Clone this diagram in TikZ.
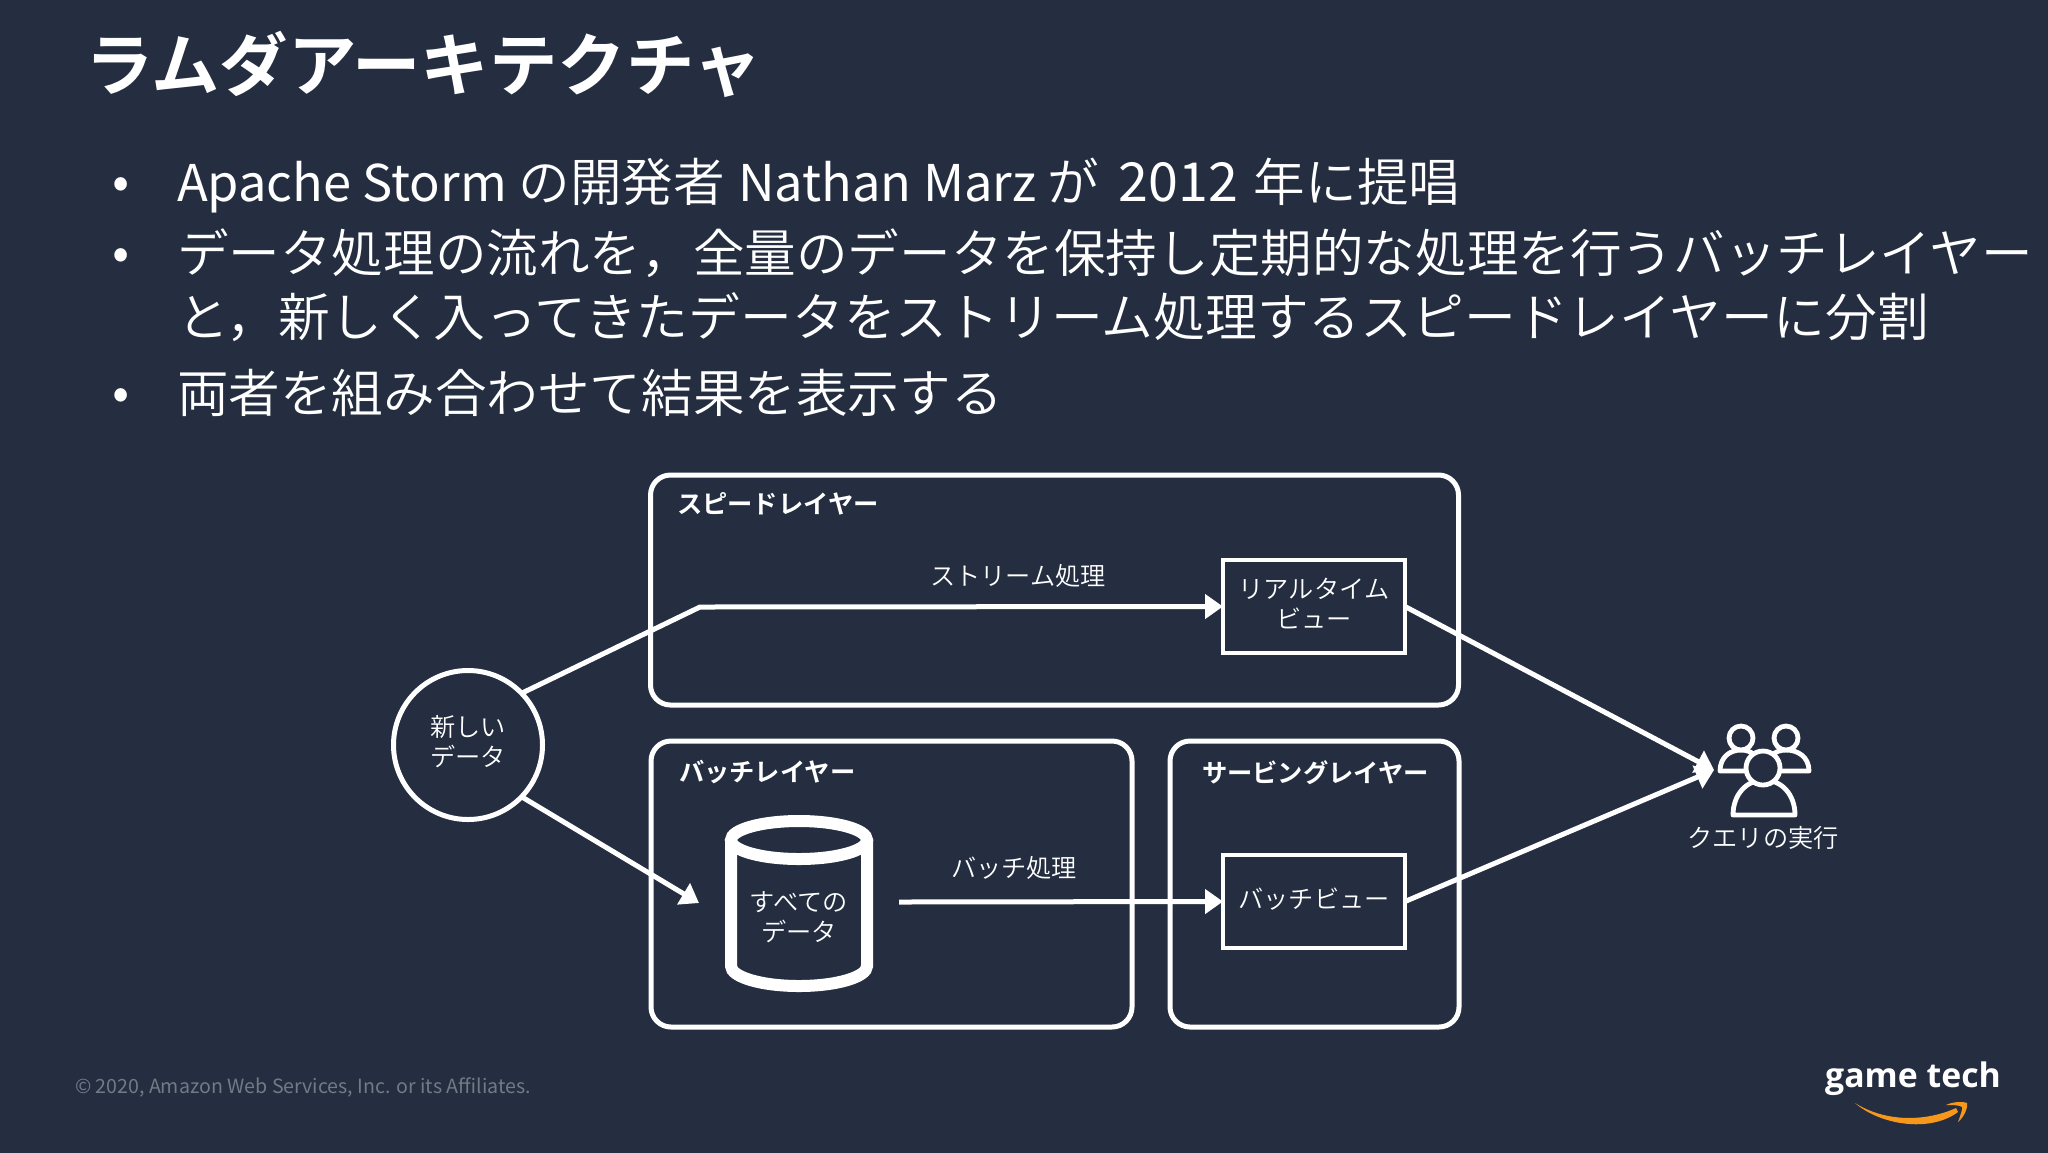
\documentclass[tikz,border=0pt]{standalone}
\usepackage{fontspec}
\usetikzlibrary{arrows.meta}
\newfontfamily\jpfont{Noto Sans CJK JP DemiLight}
\newfontfamily\jpreg{Noto Sans CJK JP}
\newfontfamily\jpbold{Noto Sans CJK JP Bold}
\newfontfamily\logofont{Open Sans}[UprightFont=*,BoldFont=* Bold]
\definecolor{bg}{HTML}{242E40}
\definecolor{smile}{HTML}{F7981D}
\definecolor{foot}{HTML}{737985}
\newcommand{\latinpart}{\jpreg\fontsize{25.3}{30}\selectfont}
\newcommand{\yearpart}{\jpreg\fontsize{26.9}{30}\selectfont}
\tikzset{
  every node/.style={inner sep=0pt,outer sep=0pt,text=white},
  wire/.style={draw=white,line width=2.5pt},
  arrowline/.style={wire,-{Triangle[length=9pt,width=12pt]}},
  layer/.style={draw=white,line width=2.5pt,rounded corners=10pt,rectangle},
  viewbox/.style={draw=white,line width=2.3pt,rectangle,minimum width=91pt,minimum height=46.5pt},
  lbl/.style={font=\jpfont\fontsize{12.6}{15}\selectfont,align=center},
  lblb/.style={font=\jpbold\fontsize{12.65}{15}\selectfont},
  bodytext/.style={anchor=base west,font=\jpfont\fontsize{25.8}{30}\selectfont},
  bulletmark/.style={anchor=base,font=\jpfont\fontsize{25.8}{30}\selectfont},
  person/.style={draw=white,line width=2.4pt,fill=bg,line join=round}
}
\begin{document}
\begin{tikzpicture}[x=0.5pt,y=-0.5pt]
\useasboundingbox (0,0) rectangle (2048,1152);
\fill[bg] (-6,-6) rectangle (2054,1158);
\node[anchor=base west,font=\jpbold\fontsize{34.2}{40}\selectfont] (title) at (85,90) {ラムダアーキテクチャ};
\node[bulletmark] (b1) at (121,199) {•};
\node[bodytext] (t1) at (177,201) {{\latinpart Apache Storm} の開発者\hspace{1pt} {\latinpart Nathan Marz} が\hspace{3.9pt} {\yearpart 2012}\hspace{2.2pt} 年に提唱};
\node[bulletmark] (b2) at (121,270) {•};
\node[bodytext] (t2) at (177,272) {データ処理の流れを，全量のデータを保持し定期的な処理を行うバッチレイヤー};
\node[bodytext,font=\jpfont\fontsize{25.9}{30}\selectfont] (t3) at (177,336) {と，新しく入ってきたデータをストリーム処理するスピードレイヤーに分割};
\node[bulletmark] (b3) at (121,410) {•};
\node[bodytext] (t4) at (177,412) {両者を組み合わせて結果を表示する};

\node[layer,minimum width=404pt,minimum height=115pt] (speed) at (1054.5,590) {};
\node[layer,minimum width=240.5pt,minimum height=143pt] (batch) at (891.5,884) {};
\node[layer,minimum width=144.5pt,minimum height=143pt] (serving) at (1314.5,884) {};
\node[lblb,anchor=west] (speedl) at (677,504) {スピードレイヤー};
\node[lblb,anchor=west] (batchl) at (679,772) {バッチレイヤー};
\node[lblb,anchor=west] (servl) at (1202,773) {サービングレイヤー};

\node[draw=white,line width=2.5pt,circle,minimum size=74.5pt] (new) at (468,745) {};
\node[lbl] (newl) at (468,742) {新しい\\データ};
\node[viewbox] (rt) at (1314,606.5) {};
\node[lbl] (rtl) at (1314,603) {リアルタイム\\ビュー};
\node[viewbox] (bv) at (1314,901.5) {};
\node[lbl] (bvl) at (1314,899) {バッチビュー};

% database
\draw[draw=white,line width=6pt] (731,840) -- (731,966) arc[start angle=180,end angle=360,x radius=34pt,y radius=10pt] -- (867,840);
\draw[draw=white,line width=6pt,fill=bg] (799,840) ellipse[x radius=34pt,y radius=9.5pt];
\node[lbl] (all) at (799,917) {すべての\\データ};

\coordinate (bend) at (700,607);
\coordinate (dbin) at (699,903);
\coordinate (dbout) at (899,902);
\coordinate (query) at (1714,770);
\draw[arrowline] (new.44) -- (bend) -- (rt.west);
\draw[arrowline] (new.-44) -- (dbin);
\draw[arrowline] (dbout) -- (bv.west);
\draw[arrowline] (rt.east) -- (query);
\draw[arrowline] (bv.east) -- (query);
\node[lbl] (stream) at (1018,576) {ストリーム処理};
\node[lbl] (batchp) at (1014,868) {バッチ処理};

% people
\draw[person] (1720,771) .. controls (1720,757) and (1730,750) .. (1741,750) .. controls (1752,750) and (1760,757) .. (1762,771) -- cycle;
\draw[person] (1809,771) .. controls (1809,757) and (1798,750) .. (1786,750) .. controls (1775,750) and (1766,757) .. (1764,771) -- cycle;
\draw[person] (1741,738) circle[radius=6pt];
\draw[person] (1786,738) circle[radius=6pt];
\draw[person] (1733,815) .. controls (1733,795) and (1746,780) .. (1764,780) .. controls (1782,780) and (1795,795) .. (1795,815) -- cycle;
\draw[person] (1763,768) circle[radius=8.5pt];
\node[lbl] (qlabel) at (1763,838) {クエリの実行};

% footer
\node[anchor=west,text=foot,font=\jpreg\fontsize{9.8}{12}\selectfont] (copy) at (75,1087) {© 2020, Amazon Web Services, Inc. or its Affiliates.};
\node[anchor=base,font=\logofont\bfseries\fontsize{16.9}{22}\selectfont] (logo) at (1913,1087) {game tech};
\fill[smile] (1855,1103) .. controls (1880,1125) and (1930,1133) .. (1958,1112) -- (1956,1108) .. controls (1925,1122) and (1885,1122) .. (1855,1103) -- cycle;
\fill[smile] (1946,1105) .. controls (1952,1102) and (1962,1101) .. (1967,1103) .. controls (1968,1109) and (1963,1118) .. (1958,1122) .. controls (1960,1116) and (1963,1109) .. (1962,1107) .. controls (1960,1105) and (1952,1105) .. (1946,1105) -- cycle;
\end{tikzpicture}
\end{document}
